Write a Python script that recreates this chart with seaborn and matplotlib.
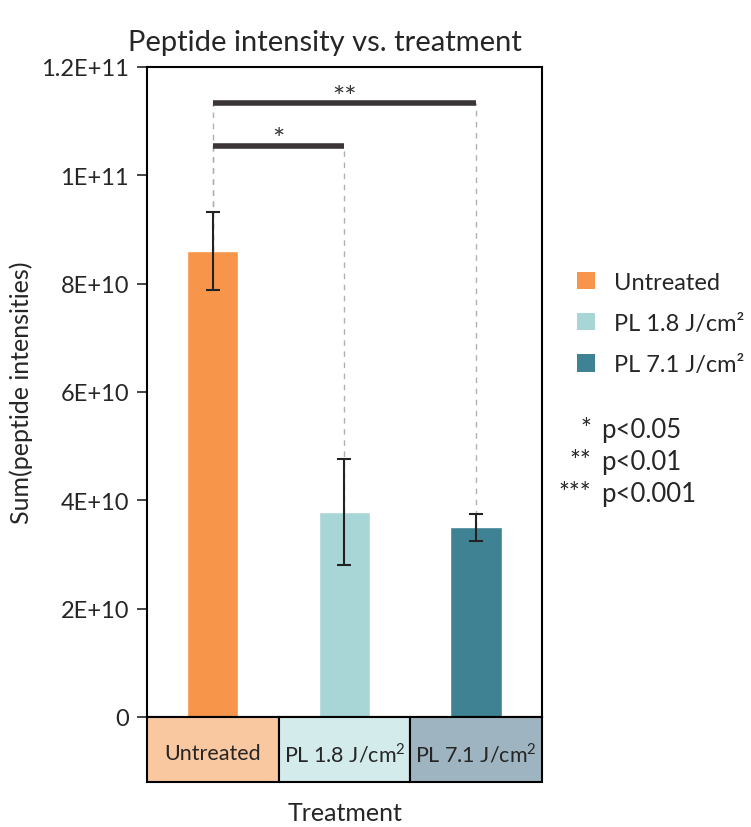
import matplotlib
matplotlib.use('Agg')
import matplotlib.pyplot as plt
from matplotlib.patches import Patch, Rectangle
import numpy as np
import seaborn as sns

sns.set_style('white')
plt.rcParams['font.family'] = ['Lato', 'DejaVu Sans']
plt.rcParams['mathtext.fontset'] = 'custom'
plt.rcParams['mathtext.rm'] = 'Lato'

# data
categories = ['Untreated', 'PL 1.8 J/cm²', 'PL 7.1 J/cm²']
box_labels = ['Untreated', 'PL 1.8 J/cm$^2$', 'PL 7.1 J/cm$^2$']
means = [86.0e9, 37.8e9, 35.0e9]
errors = [7.2e9, 9.8e9, 2.55e9]
bar_colors = ['#F7964A', '#A8D5D6', '#3E8293']
box_colors = ['#F9C7A0', '#D3EBEB', '#9EB5C1']
yticks = [0, 2e10, 4e10, 6e10, 8e10, 1e11, 1.2e11]
ytick_labels = ['0', '2E+10', '4E+10', '6E+10', '8E+10', '1E+11', '1.2E+11']
# significance brackets: (from, to, height, stars)
sig_pairs = [(0, 1, 105.5e9, '*'), (0, 2, 113.3e9, '**')]
p_stars = ['*', '**', '***']
p_texts = ['p<0.05', 'p<0.01', 'p<0.001']

fig = plt.figure(figsize=(7.51, 8.28), dpi=100)
ax = fig.add_axes([0.1957, 0.1329, 0.526, 0.785])

sns.barplot(x=categories, y=means, hue=categories, palette=bar_colors,
            width=0.39, ax=ax, legend=False, saturation=1)

x = np.arange(len(categories))
# dashed guide lines from bracket down to bar top
for i, j, h, s in sig_pairs:
    for k in (i, j):
        ax.plot([k, k], [means[k], h], ls=(0, (4, 4)), color='#b0b0b0', lw=1, zorder=2)
ax.errorbar(x, means, yerr=errors, fmt='none', ecolor='#222222', elinewidth=1.5,
            capsize=5, capthick=1.5, zorder=3)
for i, j, h, s in sig_pairs:
    ax.plot([i, j], [h, h], color='#3b3538', lw=4, solid_capstyle='butt', zorder=4)
    ax.text((i + j) / 2, h - 1.4e9, s, ha='center', va='bottom', fontsize=21, color='#333333')

ax.set_ylim(0, 1.2e11)
ax.set_xlim(-0.5, 2.5)
ax.set_yticks(yticks)
ax.set_yticklabels(ytick_labels, fontsize=17)
ax.set_xticks([])
ax.tick_params(axis='y', direction='out', length=7, width=1.2, left=True, pad=6)
for sp in ax.spines.values():
    sp.set_visible(True)
    sp.set_color('black')
    sp.set_linewidth(1.5)
ax.set_ylabel('Sum(peptide intensities)', fontsize=18, labelpad=6)
ax.set_title('Peptide intensity vs. treatment', fontsize=21, pad=12, x=0.45)

# category boxes below the axes
bax = fig.add_axes([0.1957, 0.0543, 0.526, 0.0786])
bax.set_xlim(-0.5, 2.5)
bax.set_ylim(0, 1)
bax.axis('off')
for k, (lab, c) in enumerate(zip(box_labels, box_colors)):
    bax.add_patch(Rectangle((k - 0.5, 0), 1, 1, facecolor=c, edgecolor='black', lw=1.5,
                            clip_on=False))
    bax.text(k, 0.45, lab, ha='center', va='center', fontsize=15.5)
fig.text(0.459, 0.018, 'Treatment', ha='center', va='center', fontsize=18)

handles = [Patch(facecolor=c, edgecolor='none') for c in bar_colors]
fig.legend(handles, categories, loc='upper left', bbox_to_anchor=(0.74, 0.696),
           frameon=False, fontsize=17, handlelength=0.75, handleheight=0.75,
           handletextpad=0.8, labelspacing=0.85)

for n, (st, pt) in enumerate(zip(p_stars, p_texts)):
    yy = 1 - (431 + 32 * n) / 828
    fig.text(0.787, yy, st, ha='right', va='center', fontsize=18.5)
    fig.text(0.800, yy, pt, ha='left', va='center', fontsize=18.5)

fig.savefig('out.png', dpi=100)
